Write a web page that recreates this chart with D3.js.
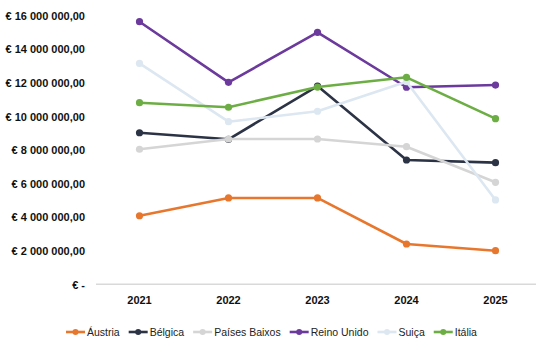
<!DOCTYPE html>
<html>
<head>
<meta charset="utf-8">
<script src="https://cdn.jsdelivr.net/npm/d3@7"></script>
<style>
  body { margin: 0; background: #fff; }
  text { font-family: "Liberation Sans", Arial, sans-serif; }
</style>
</head>
<body>
<svg width="536" height="354"></svg>
<script>
var anos = ["2021", "2022", "2023", "2024", "2025"];
var paises = ["Áustria", "Bélgica", "Países Baixos", "Reino Unido", "Suiça", "Itália"];
var cores = ["#E8772E", "#2C3345", "#D5D5D5", "#6B3A9C", "#DCE7F1", "#6DAE44"];
var austria = [4080000, 5140000, 5140000, 2400000, 2000000];
var belgica = [9020000, 8630000, 11800000, 7400000, 7240000];
var paisesBaixos = [8040000, 8650000, 8650000, 8190000, 6070000];
var reinoUnido = [15630000, 12020000, 15000000, 11730000, 11860000];
var suica = [13150000, 9680000, 10300000, 12060000, 5020000];
var italia = [10810000, 10540000, 11740000, 12320000, 9860000];
var ticksY = [0, 2000000, 4000000, 6000000, 8000000, 10000000, 12000000, 14000000, 16000000];

var series = [austria, belgica, paisesBaixos, reinoUnido, suica, italia];

var svg = d3.select("svg");
var marge = {top: 15.5, left: 95, right: 540, bottom: 284.3};

var xScale = d3.scaleBand()
	.domain(anos)
	.range([marge.left, marge.right]);
var yScale = d3.scaleLinear()
	.domain([0, 16000000])
	.range([marge.bottom, marge.top]);

// formato "€ 16 000 000,00"
function fmt(v) {
	if (v === 0) return "€ -";
	var s = String(v).replace(/\B(?=(\d{3})+(?!\d))/g, " ");
	return "€ " + s + ",00";
}

// eixo y (só texto)
var yAxis = d3.axisLeft(yScale).tickValues(ticksY).tickFormat(fmt).tickSize(0).tickPadding(0);
var gy = svg.append("g")
	.attr("transform", "translate(85,0)")
	.call(yAxis);
gy.select(".domain").remove();
gy.selectAll("text")
	.attr("font-size", 11).attr("font-weight", "bold").attr("fill", "#111")
	.attr("font-family", "Liberation Sans, Arial, sans-serif")
	.attr("dy", "0.35em");

// linha base
svg.append("line")
	.attr("x1", 96).attr("x2", 536)
	.attr("y1", yScale(0)).attr("y2", yScale(0))
	.attr("stroke", "#D9D9D9").attr("stroke-width", 1.5);

// eixo x
var xAxis = d3.axisBottom(xScale).tickSize(0).tickPadding(0);
var gx = svg.append("g")
	.attr("transform", "translate(0,296)")
	.call(xAxis);
gx.select(".domain").remove();
gx.selectAll("text")
	.attr("font-size", 11).attr("font-weight", "bold").attr("fill", "#111")
	.attr("font-family", "Liberation Sans, Arial, sans-serif");

// linhas
var line = d3.line()
	.x(function(d, i) { return xScale(anos[i]) + xScale.bandwidth() / 2; })
	.y(function(d) { return yScale(d); });

series.forEach(function(dados, k) {
	var g = svg.append("g");
	g.append("path")
		.attr("d", line(dados))
		.attr("fill", "none")
		.attr("stroke", cores[k])
		.attr("stroke-width", 2.6)
		.attr("stroke-linejoin", "round");
	g.selectAll("circle")
		.data(dados)
		.enter()
		.append("circle")
		.attr("cx", function(d, i) { return xScale(anos[i]) + xScale.bandwidth() / 2; })
		.attr("cy", function(d) { return yScale(d); })
		.attr("r", 3.6)
		.attr("fill", cores[k]);
});

// legenda
var leg = svg.append("g").attr("transform", "translate(0,332)");
var xpos = 66;
paises.forEach(function(p, k) {
	var item = leg.append("g").attr("transform", "translate(" + xpos + ",0)");
	item.append("line")
		.attr("x1", 0).attr("x2", 19).attr("y1", 0).attr("y2", 0)
		.attr("stroke", cores[k]).attr("stroke-width", 2.6);
	item.append("circle").attr("cx", 9.5).attr("cy", 0).attr("r", 3).attr("fill", cores[k]);
	var t = item.append("text")
		.attr("x", 21).attr("y", 0).attr("dy", "0.35em")
		.attr("font-size", 10.5).attr("fill", "#222")
		.text(p);
	xpos += 21 + t.node().getComputedTextLength() + 9;
});
</script>
</body>
</html>
